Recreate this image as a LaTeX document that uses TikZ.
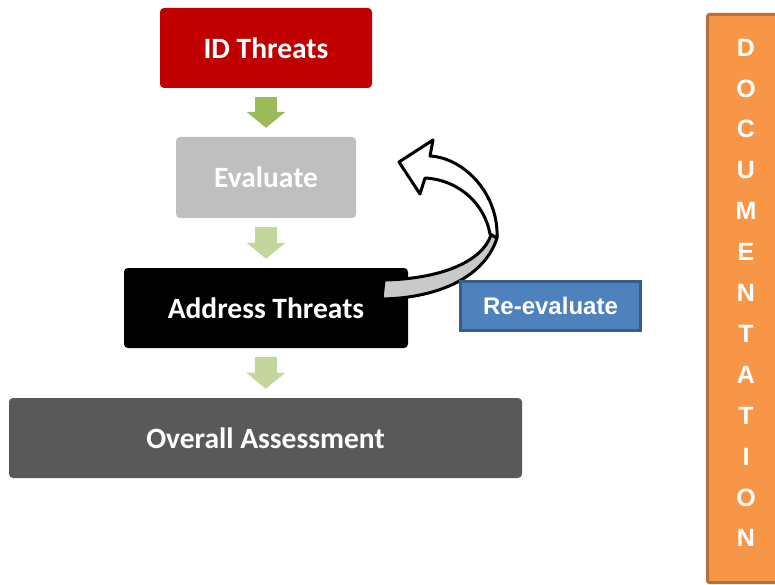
\documentclass[tikz,border=0pt]{standalone}
\usepackage{fontspec}
\setmainfont{Carlito}
\newfontfamily\arialfont{Liberation Sans}
\usetikzlibrary{arrows.meta}

\definecolor{idred}{HTML}{C00000}
\definecolor{evalgray}{HTML}{BFBFBF}
\definecolor{overallgray}{HTML}{595959}
\definecolor{flowgreen}{HTML}{9BBB59}
\definecolor{flowlight}{HTML}{C3D69B}
\definecolor{reblue}{HTML}{4F81BD}
\definecolor{reblueedge}{HTML}{385D8A}
\definecolor{docorange}{HTML}{F79646}
\definecolor{docedge}{HTML}{B7703A}
\definecolor{bandgray}{HTML}{C9C9C9}

\begin{document}
\begin{tikzpicture}[x=1pt, y=-1pt]
        \tikzstyle{every node}=[inner sep=0pt, text=white]
        \tikzstyle{stage}=[rounded corners=4pt, minimum height=80pt, font=\fontsize{29.5}{33}\selectfont\bfseries]
        \tikzstyle{flow}=[line width=22pt, -{Triangle[width=38pt,length=16pt]}, shorten <=9pt, shorten >=9pt]
        \tikzstyle{docletter}=[font=\arialfont\fontsize{25}{28}\selectfont\bfseries]
        \useasboundingbox (0,0) rectangle (775,585);
        \clip (0,0) rectangle (775,585);
        % main column
        \node [stage, fill=idred, minimum width=212pt] (idthreats) at (266,48) {ID Threats};
        \node [stage, fill=evalgray, minimum width=180pt, minimum height=81pt] (evaluate) at (266,177.5) {Evaluate};
        \node [stage, fill=black, minimum width=284pt] (address) at (266,308) {Address Threats};
        \node [stage, fill=overallgray, minimum width=513pt] (overall) at (265.5,438) {Overall Assessment};
        \draw [flow, flowgreen] (idthreats) -- (evaluate);
        \draw [flow, flowlight] (evaluate) -- (address);
        \draw [flow, flowlight] (address) -- (overall);
        % curved re-evaluate arrow
        \draw [line width=3pt, line join=round, fill=white] (490,234) .. controls (485,205) and (460,180) .. (425,178) -- (420,194) -- (399,162) -- (433,140) -- (430,156) .. controls (465,158) and (499,195) .. (497,238) -- cycle;
        \draw [line width=3pt, line join=round, fill=bandgray] (384,280) .. controls (440,279) and (482,262) .. (491,235) -- (497,238) .. controls (485,276) and (440,298) .. (382,299) -- cycle;
        \node [draw=reblueedge, line width=3pt, fill=reblue, minimum width=180pt, minimum height=49pt, font=\arialfont\fontsize{24}{28}\selectfont\bfseries] (reevaluate) at (550.5,306) {Re-evaluate};
        % documentation bar
        \draw [draw=docedge, line width=3pt, fill=docorange, rounded corners=2pt] (707.5,14.5) rectangle (790,582.5);
        \foreach \ch [count=\i from 0] in {D,O,C,U,M,E,N,T,A,T,I,O,N}
            \node [docletter] (doc\i) at (746,47.5+40.9*\i) {\ch};
    \end{tikzpicture}
\end{document}
